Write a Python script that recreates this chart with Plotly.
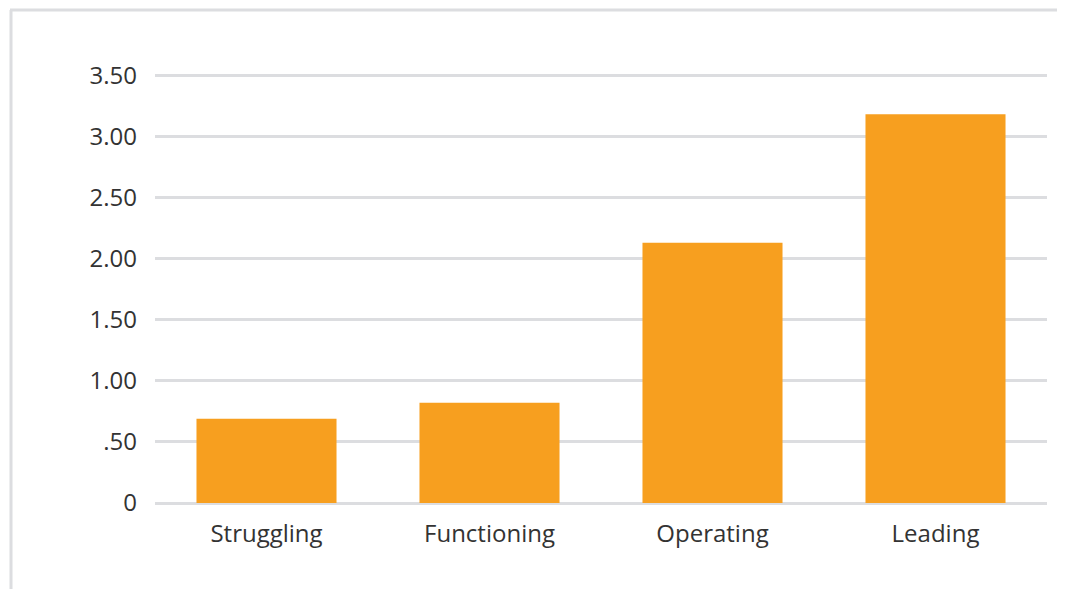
import plotly.graph_objects as go

categories = ["Struggling", "Functioning", "Operating", "Leading"]
values = [0.69, 0.82, 2.13, 3.18]
tick_vals = [0, 0.5, 1.0, 1.5, 2.0, 2.5, 3.0, 3.5]
tick_text = ["0", ".50", "1.00", "1.50", "2.00", "2.50", "3.00", "3.50"]

# page body has an 8px margin, so the figure starts at (8, 8)
OFF = 8
W, H = 1065 - OFF, 589 - OFF
L, R, T, B = 155 - OFF, 18, 74 - OFF, 86
pw, ph = W - L - R, H - T - B


def px(x):
    return (x - OFF - L) / pw


def py(y):
    return (H - B - (y - OFF)) / ph


border = '#DCDDE0'

fig = go.Figure(go.Bar(
    x=categories, y=values,
    marker=dict(color='#F79F1F', line=dict(width=0)),
    showlegend=False,
))

fig.update_layout(
    width=W, height=H,
    margin=dict(l=L, r=R, t=T, b=B),
    bargap=0.372,
    plot_bgcolor='white', paper_bgcolor='white',
    font=dict(family='Open Sans, Noto Sans, sans-serif', size=24, color='#333333'),
    xaxis=dict(showgrid=False, showline=False, zeroline=False,
               ticklabelstandoff=14),
    yaxis=dict(range=[0, 3.51], tickvals=tick_vals, ticktext=tick_text,
               showgrid=True, gridcolor=border, gridwidth=3,
               zeroline=True, zerolinecolor=border, zerolinewidth=3,
               showline=False, ticklabelstandoff=17),
    shapes=[
        dict(type='line', xref='paper', yref='paper',
             x0=px(10), x1=px(1065), y0=py(10), y1=py(10),
             line=dict(color=border, width=3)),
        dict(type='line', xref='paper', yref='paper',
             x0=px(11), x1=px(11), y0=py(10), y1=py(589),
             line=dict(color=border, width=3)),
    ],
)

fig.write_html("out.html")
